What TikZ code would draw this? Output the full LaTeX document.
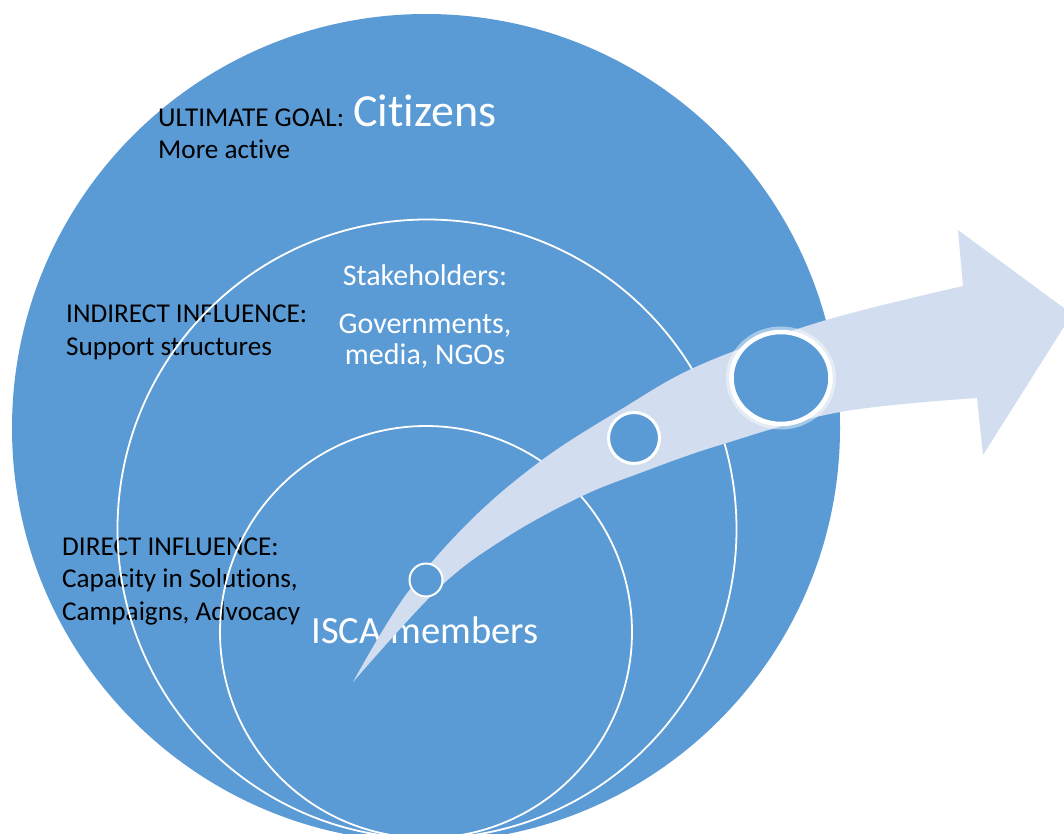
\documentclass[tikz,border=0pt]{standalone}
\usepackage{fontspec}
\setmainfont{Carlito}[Ligatures=NoCommon]
\usepackage{tikz}
\usetikzlibrary{positioning,shapes.geometric}

\definecolor{discblue}{HTML}{5B9BD5}
\definecolor{pathblue}{HTML}{D2DEEF}

\newcommand{\darkfont}{\fontsize{27.2}{32.3}\selectfont}
\newcommand{\lightfont}{\fontsize{30}{30.5}\selectfont}
\newcommand{\membersfont}{\fontsize{38.5}{42}\selectfont}
\newcommand{\citizensfont}{\fontsize{46}{50}\selectfont}

\begin{document}
\begin{tikzpicture}[%
		x=1pt,
		y=-1pt,
		disc/.style={%
			circle,
			inner sep=0pt,
			minimum size=#1
		},
		ring/.style={%
			disc=#1,
			draw=white,
			line width=1.8pt
		},
		milestone/.style={%
			disc=#1,
			fill=discblue,
			draw=white
		},
		dark/.style={%
			inner sep=0pt,
			align=left,
			text=black,
			font=\darkfont
		},
		light/.style={%
			inner sep=0pt,
			align=center,
			text=white,
			font=\lightfont
		}
		]
		\useasboundingbox (0,0) rectangle (1064,834);
		\fill[white] (0,0) rectangle (1064,834);
		\clip (0,0) rectangle (1064,834);
		
		\node[disc=828pt, fill=discblue] (citizens) at (426,428) {};
		
		\node[dark, anchor=base west]  (goal)      at (158,159) {ULTIMATE GOAL:\\More active};
		\node[light, anchor=base west, font=\citizensfont] (citizenslabel) at (353,127) {Citizens};
		\node[dark, anchor=base west]  (indirect)  at (66,355)  {INDIRECT INFLUENCE:\\Support structures};
		\node[light, anchor=base]      (holders)   at (425,285) {Stakeholders:};
		\node[light, anchor=base]      (groups)    at (425,364) {Governments,\\media, NGOs};
		\node[dark, anchor=base west]  (direct)    at (62,620)  {DIRECT INFLUENCE:\\Capacity in Solutions,\\Campaigns, Advocacy};
		\node[light, anchor=base, font=\membersfont] (memberslabel) at (425,643) {ISCA members};
		
		\node[ring=619pt] (stakeholders) at (427,529) {};
		\node[ring=412pt] (members)      at (426,632) {};
		
		\fill[pathblue] (353,682)
		-- plot[smooth, tension=0.6] coordinates {(353,682) (405,596) (470,521) (542,460) (620,410) (700,365) (823,321) (963,286)}
		-- (958,230) -- (1072,314) -- (983,455) -- (977,398)
		-- plot[smooth, tension=0.6] coordinates {(977,398) (840,412) (720,445) (640,473) (580,497) (507,537) (440,587) (353,682)}
		-- cycle;
		
		\node[milestone=33pt, line width=2pt] (first)  at (426,580) {};
		\node[milestone=51pt, line width=3pt] (second) at (634,438) {};
		\node[ellipse, inner sep=0pt, minimum width=101pt, minimum height=94pt,
		draw=white, draw opacity=0.45, line width=9pt] (glow) at (781,378) {};
		\node[ellipse, inner sep=0pt, minimum width=99pt, minimum height=92pt,
		fill=discblue, draw=white, line width=4.5pt] (third) at (781,378) {};
\end{tikzpicture}
\end{document}
